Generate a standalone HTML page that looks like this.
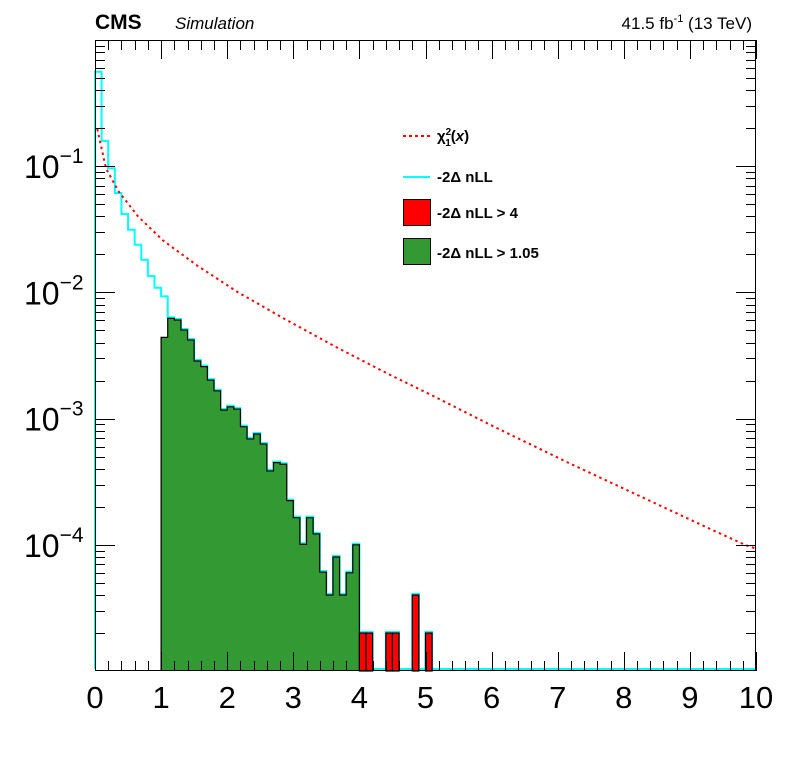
<!DOCTYPE html>
<html><head><meta charset="utf-8"><style>
body{margin:0;background:#fff;}
svg{display:block;font-family:"Liberation Sans",Arial,sans-serif;}
</style></head><body>
<svg id="chart" width="796" height="772" xmlns="http://www.w3.org/2000/svg">
<rect width="796" height="772" fill="#fff"/>
<g id="marks"></g>
<g id="axes"></g>
<text x="95" y="29" font-size="21" font-weight="bold">CMS</text>
<text x="175" y="29" font-size="17" font-style="italic">Simulation</text>
<text x="752" y="29" font-size="17" text-anchor="end">41.5 fb<tspan dy="-7" font-size="11">-1</tspan><tspan dy="7"> (13 TeV)</tspan></text>
<g font-size="15" font-weight="bold">
<line x1="403" y1="136" x2="430" y2="136" stroke="#f00" stroke-width="2" stroke-dasharray="3,3"/>
<text x="437" y="141">χ<tspan dy="-6" font-size="10">2</tspan><tspan dx="-6" dy="11" font-size="10">1</tspan><tspan dy="-5">(</tspan><tspan font-style="italic">x</tspan>)</text>
<line x1="403" y1="177" x2="430" y2="177" stroke="#00ffff" stroke-width="2"/>
<text x="437" y="182">-2Δ nLL</text>
<rect x="403.5" y="199.5" width="27" height="26" fill="#f00" stroke="#000"/>
<text x="437" y="218">-2Δ nLL &gt; 4</text>
<rect x="403.5" y="238.5" width="27" height="26" fill="#339933" stroke="#000"/>
<text x="437" y="258">-2Δ nLL &gt; 1.05</text>
</g>
</svg>
<script>
const binWidth = 0.1;
const cyanValues = [0.55,0.156,0.0944,0.0602,0.041,0.0308,0.0234,0.0178,0.0132,0.0107,
0.00914,0.00623,0.00604,0.00504,0.0042,0.00286,0.00258,0.00202,0.00166,0.00117,
0.00124,0.00119,0.000863,0.00069,0.000755,0.000629,0.000385,0.000448,0.000435,0.000224,
0.000164,0.000101,0.000164,0.000122,0.0000608,0.00004,0.00008,0.00004,0.00006,0.0001,
0.00002,0.00002,0,0,0.00002,0.00002,0,0,0.00004,0,0.00002,
0,0,0,0,0,0,0,0,0,0,0,0,0,0,0,0,0,0,0,0,0,0,0,0,0,0,0,0,0,0,0,0,0,0,0,0,0,0,0,0,0,0,0,0,0,0,0,0,0];
const greenStart = 1.0;
const greenValues = [0.0044,0.00623,0.00604,0.00504,0.0042,0.00286,0.00258,0.00202,0.00166,0.00117,
0.00124,0.00119,0.000863,0.00069,0.000755,0.000629,0.000385,0.000448,0.000435,0.000224,
0.000164,0.000101,0.000164,0.000122,0.0000608,0.00004,0.00008,0.00004,0.00006,0.0001];
const redStart = 4.0;
const redValues = [0.00002,0.00002,0,0,0.00002,0.00002,0,0,0.00004,0,0.00002];
const chiX = [0.035,0.166,0.353,0.655,1.033,1.548,2.153,2.849,3.656,4.448,5.053,6.056,7.145,8.25,9.354,9.85,10];
const chiY = [0.197,0.0962,0.0635,0.0398,0.0257,0.0163,0.0101,0.00624,0.00367,0.00224,0.00157,0.000853,0.000451,0.000242,0.00013,0.0000991,0.0000933];
const xTicks = [0,1,2,3,4,5,6,7,8,9,10];
const yTickExp = [-1,-2,-3,-4];

const L=95,R=756,T=40,B=671,PPD=126.2;
const xMap = x => L + x*(R-L)/10;
const yMap = v => v<=0 ? B-1 : Math.min(B-1, T + (-Math.log10(v))*PPD);
const NS='http://www.w3.org/2000/svg';
function mk(tag, attrs, parent){const e=document.createElementNS(NS,tag);for(const k in attrs)e.setAttribute(k,attrs[k]);parent.appendChild(e);return e;}
const marks=document.getElementById('marks'), axes=document.getElementById('axes');

function stepPath(start, vals, close){
  let d='M'+xMap(start)+','+(B-1);
  vals.forEach((v,i)=>{const y=yMap(v);d+=' L'+xMap(start+i*binWidth)+','+y+' L'+xMap(start+(i+1)*binWidth)+','+y;});
  d+=' L'+xMap(start+vals.length*binWidth)+','+(B-1);
  if(close) d+=' Z';
  return d;
}
// cyan outline (slightly above)
const cy=mk('path',{d:stepPath(0,cyanValues,false),fill:'none',stroke:'#00ffff','stroke-width':2,transform:'translate(0,-1)'},marks);


// green fill
const gp=mk('path',{d:stepPath(greenStart,greenValues,false),fill:'#339933',stroke:'#000','stroke-width':1.2},marks);


// red bars
redValues.forEach((v,i)=>{
  if(v<=0) return;
  const x0=xMap(redStart+i*binWidth), x1=xMap(redStart+(i+1)*binWidth), y=yMap(v);
  const r=mk('rect',{x:x0,y:y,width:x1-x0,height:B-y,fill:'#f00',stroke:'#000','stroke-width':1.2},marks);
  
  
});
// chi2 curve
const cp=mk('polyline',{points:chiX.map((x,i)=>xMap(x)+','+yMap(chiY[i])).join(' '),fill:'none',stroke:'#f00','stroke-width':2,'stroke-dasharray':'2.5,3.5'},marks);



// frame
const fr=mk('rect',{x:L+0.5,y:T+0.5,width:R-L-1,height:B-T-1,fill:'none',stroke:'#000','stroke-width':1},axes);


// x ticks
for(let i=0;i<=50;i++){
  const x=Math.round(xMap(i*0.2))+0.5, len=(i%5===0)?19:10;
  mk('line',{x1:x,y1:B,x2:x,y2:B-len,stroke:'#000'},axes);
  mk('line',{x1:x,y1:T,x2:x,y2:T+len,stroke:'#000'},axes);
}
xTicks.forEach(t=>{
  const tx=mk('text',{x:xMap(t),y:708,'font-size':31,'text-anchor':'middle'},axes);
  tx.textContent=t;
  
  
});
// y ticks
for(let e=-5;e<0;e++){
  for(let m=1;m<10;m++){
    const v=m*Math.pow(10,e); const y=Math.round(yMap(v))+0.5;
    if(y<=T||y>=B-1) continue;
    const len=m===1?20:10;
    mk('line',{x1:L,y1:y,x2:L+len,y2:y,stroke:'#000'},axes);
    mk('line',{x1:R,y1:y,x2:R-len,y2:y,stroke:'#000'},axes);
  }
}
yTickExp.forEach(e=>{
  const y=yMap(Math.pow(10,e));
  const tx=mk('text',{x:24,y:y+12,'font-size':32},axes);
  
  
  tx.textContent='10';
  const s=mk('tspan',{dy:-15,'font-size':21},tx);
  s.textContent='\u2212'+(-e);
});
</script>
</body></html>
